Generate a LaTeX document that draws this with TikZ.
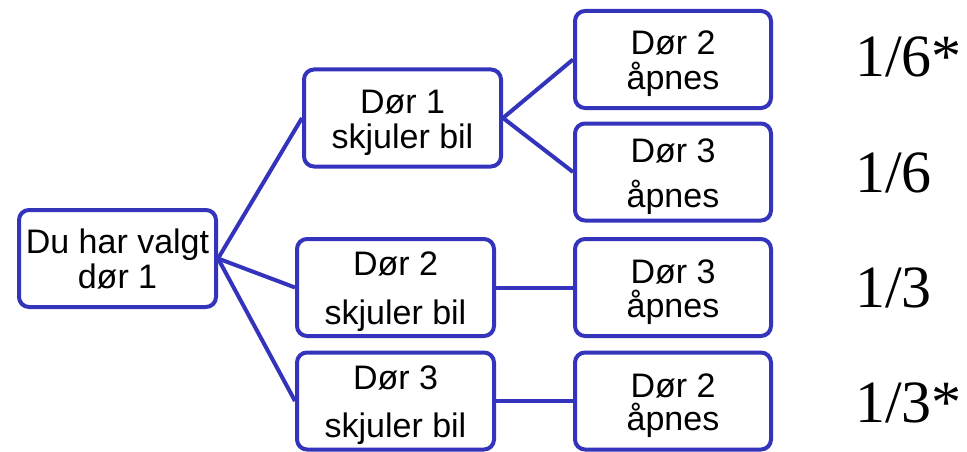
\documentclass[tikz,border=0pt]{standalone}
\usepackage{fontspec}
\setmainfont{Liberation Sans}
\newfontfamily\probfont{Liberation Serif}
\definecolor{boxblue}{RGB}{51,51,187}
\begin{document}
\begin{tikzpicture}[x=1pt,y=-1pt,
  box/.style={draw=boxblue, line width=4pt, rounded corners=10pt, fill=white,
    align=center, font=\fontsize{34}{35}\selectfont, text depth=0pt, inner sep=0pt},
  wide/.style={minimum width=197pt, minimum height=97pt},
  narrow/.style={minimum width=196pt, minimum height=97pt},
  link/.style={draw=boxblue, line width=4pt},
  prob/.style={font=\probfont\fontsize{60}{60}\selectfont, anchor=base west, inner sep=0pt}]
\useasboundingbox (0,0) rectangle (967,452);

\node[box, wide, text height=60pt] (root) at (117.5,258.5) {Du har valgt\\dør 1};
\node[box, wide, text height=60pt] (d1) at (402.5,118) {Dør 1\\skjuler bil};
\node[box, wide, text height=74pt] (d2) at (395.5,287.5) {Dør 2\\[14pt]skjuler bil};
\node[box, wide, text height=73pt] (d3) at (395.5,401) {Dør 3\\[13pt]skjuler bil};

\node[box, narrow, text height=60pt] (a1) at (673,59.5) {Dør 2\\åpnes};
\node[box, narrow, text height=70pt] (a2) at (673,172) {Dør 3\\[10pt]åpnes};
\node[box, narrow, text height=59pt] (a3) at (673,287.5) {Dør 3\\[-1pt]åpnes};
\node[box, narrow, text height=58pt] (a4) at (673,401) {Dør 2\\[-2pt]åpnes};

\draw[link] (root.east) -- (d1.west);
\draw[link] (root.east) -- (d2.west);
\draw[link] (root.east) -- (d3.west);
\draw[link] (d1.east) -- (a1.west);
\draw[link] (d1.east) -- (a2.west);
\draw[link] (d2.east) -- (a3.west);
\draw[link] (d3.east) -- (a4.west);

\node[prob] (p1) at (855,77) {1/6*};
\node[prob] (p2) at (855,192) {1/6};
\node[prob] (p3) at (855,307) {1/3};
\node[prob] (p4) at (855,422) {1/3*};
\end{tikzpicture}
\end{document}
